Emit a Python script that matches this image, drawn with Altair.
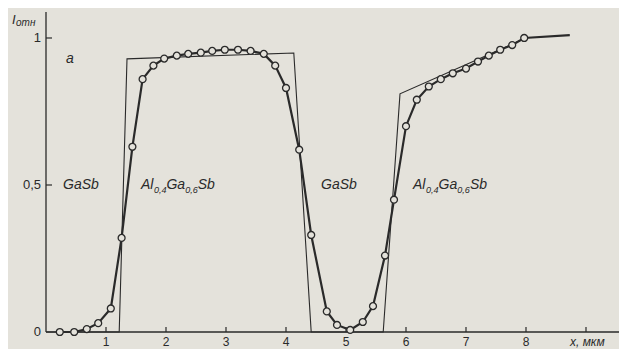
import altair as alt
import pandas as pd

# measured profile (circles)
meas_x = [0.23, 0.47, 0.68, 0.87, 1.08, 1.26, 1.44, 1.61, 1.79, 1.97,
          2.18, 2.37, 2.58, 2.77, 2.98, 3.20, 3.41, 3.63, 3.82, 4.00,
          4.22, 4.42, 4.68, 4.85, 5.07, 5.28, 5.45, 5.65, 5.80, 6.00,
          6.18, 6.38, 6.58, 6.78, 7.00, 7.20, 7.38, 7.57, 7.77, 7.97]
meas_y = [0.0, 0.0, 0.01, 0.03, 0.08, 0.32, 0.63, 0.86, 0.906, 0.93,
          0.94, 0.946, 0.95, 0.956, 0.96, 0.96, 0.956, 0.946, 0.906, 0.83,
          0.62, 0.33, 0.07, 0.024, 0.007, 0.034, 0.088, 0.26, 0.45, 0.70,
          0.79, 0.835, 0.86, 0.88, 0.896, 0.92, 0.94, 0.96, 0.976, 1.0]
tail_x = [8.73]
tail_y = [1.01]

# ideal (step) profile
ideal_x = [0.0, 1.22, 1.35, 4.13, 4.42, 5.62, 5.90, 8.0]
ideal_y = [0.0, 0.0, 0.929, 0.949, 0.0, 0.0, 0.81, 1.0]

x_ticks = [1, 2, 3, 4, 5, 6, 7, 8, 9]
x_tick_labels = ["1", "2", "3", "4", "5", "6", "7", "8"]
y_ticks = [0.5, 1.0]
y_label_vals = [0.0, 0.5, 1.0]
y_tick_labels = ["0", "0,5", "1"]

INK = "#2a2a2a"
BG = "#e4e2db"
XMAX = 9.55
YMAX = 1.102

xs = alt.Scale(domain=[0, XMAX], nice=False, zero=False)
ys = alt.Scale(domain=[0, YMAX], nice=False, zero=False)


def X(f="x"):
    return alt.X(f"{f}:Q", scale=xs, axis=None)


def Y(f="y"):
    return alt.Y(f"{f}:Q", scale=ys, axis=None)


meas_line_df = pd.DataFrame({"x": meas_x + tail_x, "y": meas_y + tail_y,
                             "i": list(range(len(meas_x) + len(tail_x)))})
meas_pts_df = pd.DataFrame({"x": meas_x, "y": meas_y})
ideal_df = pd.DataFrame({"x": ideal_x, "y": ideal_y, "i": list(range(len(ideal_x)))})

ideal = alt.Chart(ideal_df).mark_line(color=INK, strokeWidth=1.1).encode(
    x=X(), y=Y(), order="i:Q")
meas_line = alt.Chart(meas_line_df).mark_line(color=INK, strokeWidth=2.2).encode(
    x=X(), y=Y(), order="i:Q")
meas_pts = alt.Chart(meas_pts_df).mark_point(
    shape="circle", filled=True, fill=BG, stroke=INK, strokeWidth=1.3, size=48, opacity=1
).encode(x=X(), y=Y())

# axes
xaxis = alt.Chart(pd.DataFrame({"x": [0.0], "x2": [XMAX], "y": [0.0]})).mark_rule(
    color=INK, strokeWidth=1.3).encode(x=X(), x2="x2:Q", y=Y())
yaxis = alt.Chart(pd.DataFrame({"x": [0.0], "y": [0.0], "y2": [1.088]})).mark_rule(
    color=INK, strokeWidth=1.3).encode(x=X(), y=Y(), y2="y2:Q")
xt = alt.Chart(pd.DataFrame({"x": x_ticks, "y": [0.0] * len(x_ticks),
                             "y2": [0.017] * len(x_ticks)})).mark_rule(
    color=INK, strokeWidth=1.2).encode(x=X(), y=Y(), y2="y2:Q")
yt = alt.Chart(pd.DataFrame({"y": y_ticks, "x": [0.0] * len(y_ticks),
                             "x2": [0.1] * len(y_ticks)})).mark_rule(
    color=INK, strokeWidth=1.2).encode(x=X(), x2="x2:Q", y=Y())

xlab = alt.Chart(pd.DataFrame({"x": x_ticks[:len(x_tick_labels)],
                               "y": [-0.034] * len(x_tick_labels),
                               "t": x_tick_labels})).mark_text(
    font="Liberation Sans", fontSize=12, color=INK, baseline="middle", align="center"
).encode(x=X(), y=Y(), text="t:N")
ylab = alt.Chart(pd.DataFrame({"y": y_label_vals, "x": [-0.083] * len(y_label_vals),
                               "t": y_tick_labels})).mark_text(
    font="Liberation Sans", fontSize=13, color=INK, baseline="middle", align="right"
).encode(x=X(), y=Y(), text="t:N")

# annotations
ann = pd.DataFrame({
    "x": [-0.567, -0.50, 0.40, 0.583, 4.883,
          1.583, 1.80, 2.008, 2.32, 2.528,
          6.117, 6.333, 6.542, 6.853, 7.067,
          8.733],
    "y": [1.061, 1.051, 0.929, 0.50, 0.50,
          0.50, 0.483, 0.50, 0.483, 0.50,
          0.50, 0.483, 0.50, 0.483, 0.50,
          -0.034],
    "t": ["I", "отн", "а", "GaSb", "GaSb",
          "Al", "0,4", "Ga", "0,6", "Sb",
          "Al", "0,4", "Ga", "0,6", "Sb",
          "x, мкм"],
    "fs": [13, 10, 14, 14, 14,
           14, 9, 14, 9, 14,
           14, 9, 14, 9, 14,
           12],
    "al": ["left", "left", "center", "center", "center",
           "left", "left", "left", "left", "left",
           "left", "left", "left", "left", "left",
           "left"],
})
ann_c = alt.Chart(ann[ann.al == "center"]).mark_text(
    font="Liberation Sans", fontStyle="italic", color=INK, baseline="middle", align="center"
).encode(x=X(), y=Y(), text="t:N", size=alt.Size("fs:Q", scale=None, legend=None))
ann_l = alt.Chart(ann[ann.al == "left"]).mark_text(
    font="Liberation Sans", fontStyle="italic", color=INK, baseline="middle", align="left"
).encode(x=X(), y=Y(), text="t:N", size=alt.Size("fs:Q", scale=None, legend=None))

chart = alt.layer(
    xaxis, yaxis, xt, yt, xlab, ylab, ideal, meas_line, meas_pts, ann_c, ann_l
).properties(
    width=573, height=324,
    padding={"left": 38, "top": 0, "right": 0, "bottom": 17},
    autosize=alt.AutoSizeParams(type="none"),
    background=BG,
).configure_view(stroke=None)

chart.save("out.html", embed_options={"renderer": "svg", "actions": False})
